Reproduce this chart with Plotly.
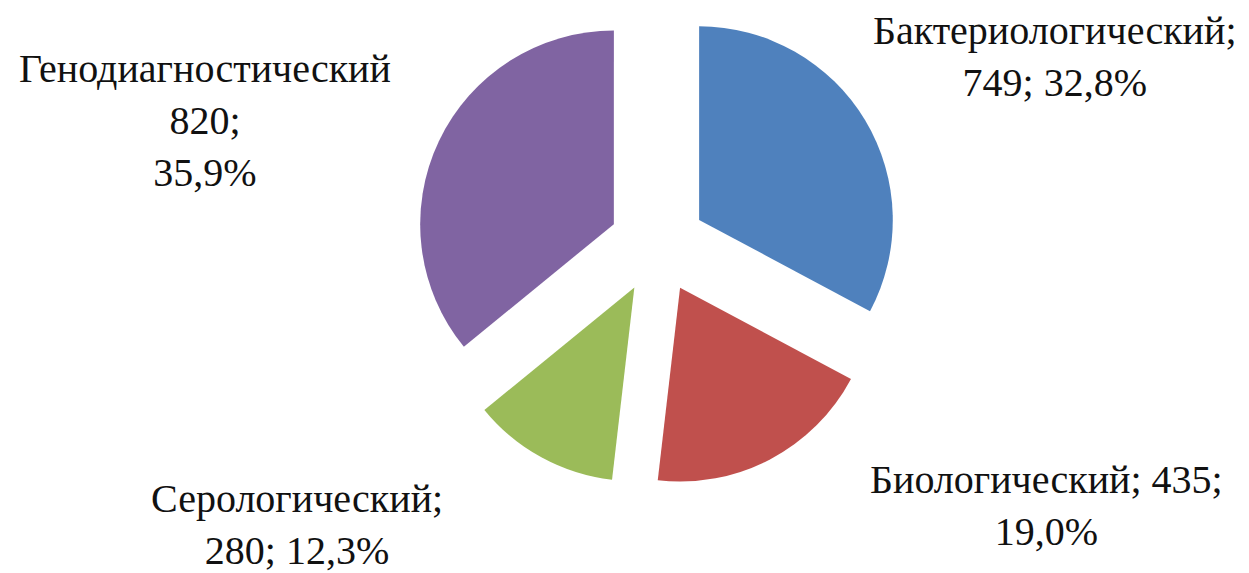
import plotly.graph_objects as go

# Methods of laboratory diagnostics: number of studies per method
methods = ["Бактериологический", "Биологический", "Серологический", "Генодиагностический"]
counts = [749, 435, 280, 820]

# Slice colours (clockwise from 12 o'clock)
colors = ["#4F81BD", "#C0504D", "#9BBB59", "#8064A2"]

# How each label is broken into lines
label_templates = [
    "{name};<br>{value}; {pct}",
    "{name}; {value};<br>{pct}",
    "{name};<br>{value}; {pct}",
    "{name}<br>{value};<br>{pct}",
]
# Label centres in pixels (x, y from top)
label_pos_px = [(1055, 57), (1046, 505), (297, 524), (205, 120)]

W, H = 1249, 573
FS = 40
SERIF = "'Times New Roman', 'Liberation Serif', 'DejaVu Serif', serif"

total = sum(counts)


def pct_text(v):
    p = round(v / total * 100, 1)
    return f"{p:.1f}".replace(".", ",") + "%"


fig = go.Figure(
    go.Pie(
        labels=methods,
        values=counts,
        sort=False,
        direction="clockwise",
        rotation=0,
        pull=[0.25] * len(counts),
        marker=dict(colors=colors, line=dict(width=0)),
        textinfo="none",
        hoverinfo="label+value+percent",
        showlegend=False,
        domain=dict(x=[0.2, 0.853], y=[0.150, 0.995]),
    )
)

annotations = []
for name, val, tpl, (px, py) in zip(methods, counts, label_templates, label_pos_px):
    annotations.append(
        dict(
            text=tpl.format(name=name, value=val, pct=pct_text(val)),
            x=px / W,
            y=1 - py / H,
            xref="paper",
            yref="paper",
            xanchor="center",
            yanchor="middle",
            align="center",
            showarrow=False,
            font=dict(family=SERIF, size=FS, color="#111111"),
        )
    )

fig.update_layout(
    width=W,
    height=H,
    margin=dict(l=0, r=0, t=0, b=0),
    paper_bgcolor="white",
    plot_bgcolor="white",
    font=dict(family=SERIF),
    annotations=annotations,
)

fig.write_html("out.html")
